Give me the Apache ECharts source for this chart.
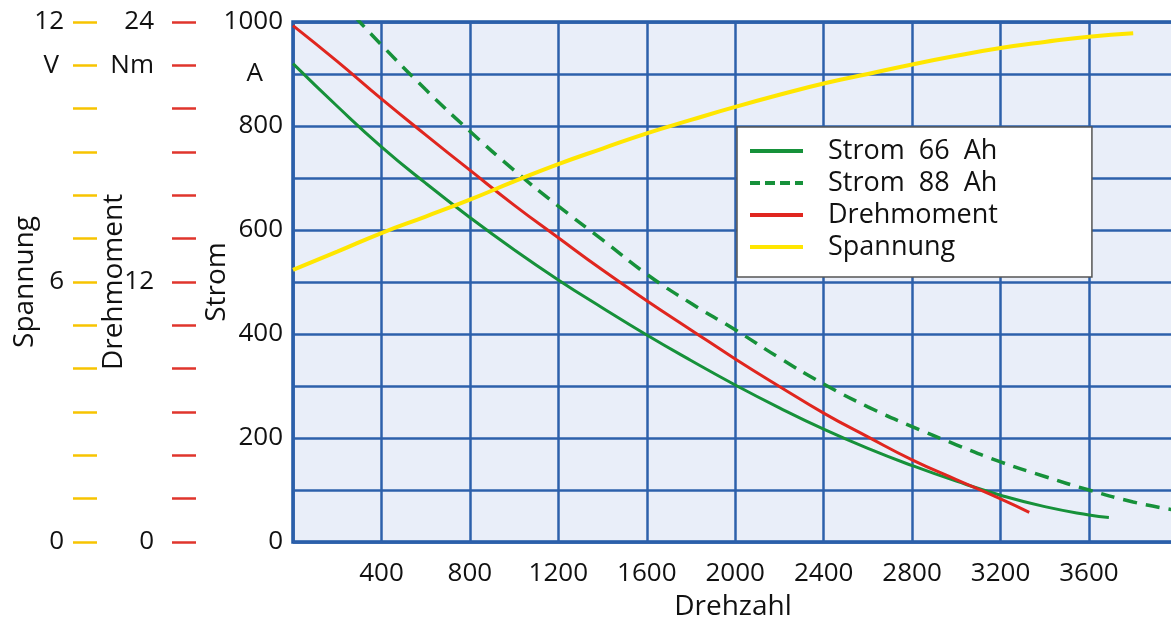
<!DOCTYPE html>
<html>
<head>
<meta charset="utf-8">
<script src="https://cdn.jsdelivr.net/npm/echarts@6/dist/echarts.min.js"></script>
<style>
  html, body { margin: 0; padding: 0; background: #fff; }
  #motor-chart { width: 1171px; height: 617px; }
</style>
</head>
<body>
<div id="motor-chart"></div>
<script>
// values, rpm on x
var rpm_66 = [0, 200, 400, 600, 800, 1000, 1200, 1400, 1600, 1800, 2000, 2200, 2400, 2600, 2800, 3000, 3200, 3400, 3600, 3690];
var strom_66 = [920, 838, 760, 690, 624, 562, 504, 450, 398, 349, 302, 258, 217, 180, 147, 117, 90, 68, 52, 47];

var rpm_88 = [280, 400, 600, 800, 1000, 1200, 1400, 1600, 1800, 2000, 2200, 2400, 2600, 2800, 3000, 3200, 3400, 3600, 3800, 3980];
var strom_88 = [1010, 956, 870, 790, 715, 646, 581, 515, 459, 408, 354, 304, 260, 222, 187, 154, 126, 100, 77, 62];

var rpm_nm = [0, 200, 400, 600, 800, 1000, 1200, 1400, 1600, 1800, 2000, 2200, 2400, 2600, 2800, 3000, 3200, 3330];
var drehmoment = [23.83, 22.18, 20.45, 18.79, 17.16, 15.55, 14.04, 12.55, 11.14, 9.79, 8.45, 7.18, 5.95, 4.85, 3.79, 2.88, 1.99, 1.37];

var rpm_v = [0, 200, 400, 600, 800, 1000, 1200, 1400, 1600, 1800, 2000, 2200, 2400, 2600, 2800, 3000, 3200, 3400, 3600, 3800];
var spannung = [6.28, 6.70, 7.13, 7.51, 7.90, 8.32, 8.72, 9.08, 9.43, 9.74, 10.04, 10.32, 10.58, 10.80, 11.02, 11.22, 11.40, 11.54, 11.66, 11.74];

var x_ticks = [400, 800, 1200, 1600, 2000, 2400, 2800, 3200, 3600];
var strom_labels = {1000: '1000', 900: '{u|A}', 800: '800', 600: '600', 400: '400', 200: '200', 0: '0'};
var nm_labels = {24: '24', 22: 'Nm', 12: '12', 0: '0'};
var v_labels = {12: '12', 11: '{u|V}', 6: '6', 0: '0'};

// legend icons: a solid bar, and a dashed bar for the 88 Ah curve
var icon_solid = 'path://M0,0 L53,0 L53,4 L0,4 Z';
var icon_dashed = 'path://M0,0h10v4h-10z M15,0h10v4h-10z M30,0h10v4h-10z M45,0h8v4h-8z';

function pairs(xs, ys) {
  return xs.map(function (x, i) { return [x, ys[i]]; });
}

function draw_motor_chart() {
  var chart = echarts.init(document.getElementById('motor-chart'));
  var font = '"Open Sans", sans-serif';
  var label_style = { fontFamily: font, fontSize: 26, color: '#111' };
  var name_style = { fontFamily: font, fontSize: 28, color: '#111' };

  var option = {
    animation: false,
    grid: {
      left: 293, right: -2, top: 22, bottom: 75,
      outerBoundsMode: 'none',
      containLabel: false,
      show: true,
      backgroundColor: '#e9eef9',
      borderColor: '#1d56a3',
      borderWidth: 3.5
    },
    legend: {
      orient: 'vertical',
      left: 737,
      top: 127,
      backgroundColor: '#fff',
      borderColor: '#555',
      borderWidth: 1.5,
      borderRadius: 0,
      padding: [10, 94, 16, 13],
      itemWidth: 53,
      itemHeight: 4,
      itemGap: 4,
      textStyle: { fontFamily: font, fontSize: 27, color: '#111', lineHeight: 28, padding: [0, 0, 0, 20] },
      data: [
        { name: 'Strom  66  Ah', icon: icon_solid },
        { name: 'Strom  88  Ah', icon: icon_dashed },
        { name: 'Drehmoment', icon: icon_solid },
        { name: 'Spannung', icon: icon_solid }
      ]
    },
    xAxis: {
      type: 'value',
      min: 0,
      max: 3980,
      interval: 400,
      name: 'Drehzahl',
      nameLocation: 'middle',
      nameGap: 51,
      nameMoveOverlap: false,
      nameTextStyle: name_style,
      axisLine: { show: false },
      axisTick: { show: false },
      axisLabel: Object.assign({
        margin: 19,
        showMaxLabel: false,
        formatter: function (v) { return x_ticks.indexOf(v) >= 0 ? String(v) : ''; }
      }, label_style),
      splitLine: { show: true, lineStyle: { color: '#2d60ab', width: 2.5 } }
    },
    yAxis: [{
      type: 'value',
      min: 0, max: 1000, interval: 100,
      position: 'left',
      name: 'Strom',
      nameLocation: 'middle',
      nameRotate: 90,
      nameGap: 62,
      nameMoveOverlap: false,
      nameTextStyle: name_style,
      axisLine: { show: false },
      axisTick: { show: false },
      axisLabel: Object.assign({
        margin: 10,
        formatter: function (v) { return strom_labels[v] !== undefined ? strom_labels[v] : ''; },
        rich: { u: { fontFamily: font, fontSize: 26, color: '#111', padding: [0, 20, 0, 0] } }
      }, label_style),
      splitLine: { show: true, lineStyle: { color: '#2d60ab', width: 2.5 } }
    }, {
      type: 'value',
      min: 0, max: 24, interval: 2,
      position: 'left',
      offset: 97,
      name: 'Drehmoment',
      nameLocation: 'middle',
      nameRotate: 90,
      nameGap: 68,
      nameMoveOverlap: false,
      nameTextStyle: name_style,
      axisLine: { show: false },
      axisTick: { show: true, length: 24, lineStyle: { color: '#e0352c', width: 2.5 } },
      axisLabel: Object.assign({
        margin: 42,
        formatter: function (v) { return nm_labels[v] !== undefined ? nm_labels[v] : ''; }
      }, label_style),
      splitLine: { show: false }
    }, {
      type: 'value',
      min: 0, max: 12, interval: 1,
      position: 'left',
      offset: 196,
      name: 'Spannung',
      nameLocation: 'middle',
      nameRotate: 90,
      nameGap: 58,
      nameMoveOverlap: false,
      nameTextStyle: name_style,
      axisLine: { show: false },
      axisTick: { show: true, length: 24, lineStyle: { color: '#f7c400', width: 2.5 } },
      axisLabel: Object.assign({
        margin: 33,
        formatter: function (v) { return v_labels[v] !== undefined ? v_labels[v] : ''; },
        rich: { u: { fontFamily: font, fontSize: 26, color: '#111', padding: [0, 5, 0, 0] } }
      }, label_style),
      splitLine: { show: false }
    }],
    series: [{
      name: 'Strom  66  Ah',
      type: 'line',
      yAxisIndex: 0,
      smooth: true,
      symbol: 'none',
      color: '#16913a',
      lineStyle: { width: 3, color: '#16913a' },
      data: pairs(rpm_66, strom_66)
    }, {
      name: 'Strom  88  Ah',
      type: 'line',
      yAxisIndex: 0,
      smooth: true,
      symbol: 'none',
      color: '#16913a',
      lineStyle: { width: 3.5, color: '#16913a', type: [14, 9] },
      data: pairs(rpm_88, strom_88)
    }, {
      name: 'Drehmoment',
      type: 'line',
      yAxisIndex: 1,
      smooth: true,
      symbol: 'none',
      color: '#e0261f',
      lineStyle: { width: 3, color: '#e0261f' },
      data: pairs(rpm_nm, drehmoment)
    }, {
      name: 'Spannung',
      type: 'line',
      yAxisIndex: 2,
      smooth: true,
      symbol: 'none',
      color: '#ffe600',
      lineStyle: { width: 4, color: '#ffe600' },
      data: pairs(rpm_v, spannung)
    }]
  };

  chart.setOption(option);
  window.addEventListener('resize', function () {
    chart.resize();
  });
}

draw_motor_chart();
</script>
</body>
</html>
